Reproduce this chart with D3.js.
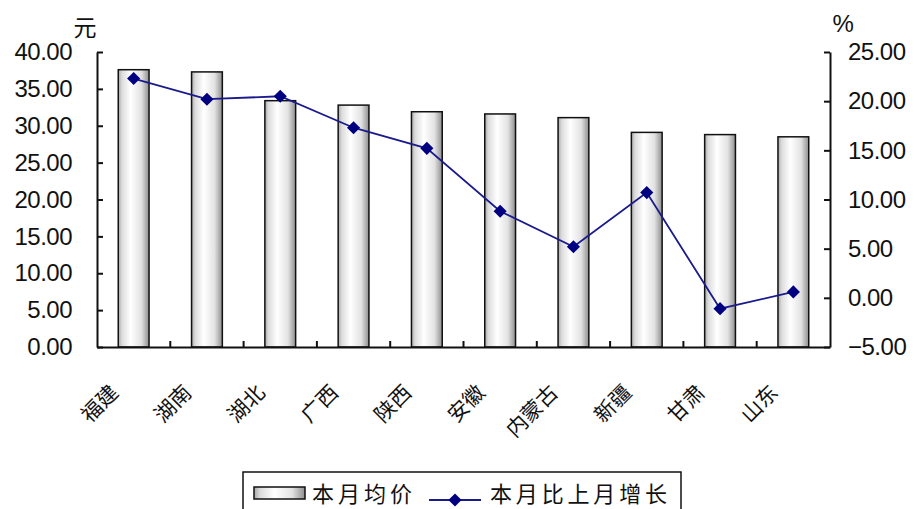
<!DOCTYPE html>
<html>
<head>
<meta charset="utf-8">
<script src="https://cdn.jsdelivr.net/npm/d3@7.9.0/dist/d3.min.js"></script>
<style>
  body { margin: 0; background: #fff; }
  svg { display: block; }
  .num { font-family: "Liberation Sans", Arial, sans-serif; font-size: 24px; fill: #111; letter-spacing: -0.5px; }
  .cjk { font-family: "Noto Sans CJK SC", sans-serif; fill: #111; }
</style>
</head>
<body>
<div id="chart"></div>
<script>
// data
const provinces = ['福建', '湖南', '湖北', '广西', '陕西', '安徽', '内蒙古', '新疆', '甘肃', '山东'];
const avgPrice = [37.6, 37.3, 33.4, 32.8, 31.9, 31.6, 31.1, 29.1, 28.8, 28.5];
const growth = [22.3, 20.2, 20.5, 17.3, 15.2, 8.8, 5.2, 10.7, -1.1, 0.6];
const leftTicks = [0, 5, 10, 15, 20, 25, 30, 35, 40];
const rightTicks = [-5, 0, 5, 10, 15, 20, 25];
const legendLabels = ['本月均价', '本月比上月增长'];

const width = 914;
const height = 509;
const plot = { left: 97, right: 830, top: 52, bottom: 347 };

const svg = d3.select('#chart')
  .append('svg')
  .attr('width', width)
  .attr('height', height);

// bar gradient: grey edges, white just left of centre
const defs = svg.append('defs');
const grad = defs.append('linearGradient')
  .attr('id', 'barGrad')
  .attr('x1', '0%').attr('x2', '100%')
  .attr('y1', '0%').attr('y2', '0%');
grad.append('stop').attr('offset', '0%').attr('stop-color', '#a8a8a8');
grad.append('stop').attr('offset', '12%').attr('stop-color', '#dcdcdc');
grad.append('stop').attr('offset', '40%').attr('stop-color', '#ffffff');
grad.append('stop').attr('offset', '75%').attr('stop-color', '#e2e2e2');
grad.append('stop').attr('offset', '100%').attr('stop-color', '#8e8e8e');

const x = d3.scaleBand()
  .domain(provinces)
  .range([plot.left, plot.right])
  .paddingInner(0.58)
  .paddingOuter(0.29);

const yLeft = d3.scaleLinear().domain([0, 40]).range([plot.bottom, plot.top]);
const yRight = d3.scaleLinear().domain([-5, 25]).range([plot.bottom, plot.top]);

// bars
svg.append('g')
  .selectAll('rect')
  .data(provinces)
  .join('rect')
  .attr('x', (d) => x(d))
  .attr('y', (d, i) => yLeft(avgPrice[i]))
  .attr('width', x.bandwidth())
  .attr('height', (d, i) => yLeft(0) - yLeft(avgPrice[i]))
  .attr('fill', 'url(#barGrad)')
  .attr('stroke', '#111')
  .attr('stroke-width', 1.5);

// axes (ticks point inward)
const leftAxis = d3.axisLeft(yLeft)
  .tickValues(leftTicks)
  .tickFormat(d3.format('.2f'))
  .tickSizeInner(-6)
  .tickSizeOuter(0)
  .tickPadding(25);

const rightAxis = d3.axisRight(yRight)
  .tickValues(rightTicks)
  .tickFormat(d3.format('.2f'))
  .tickSizeInner(-6)
  .tickSizeOuter(0)
  .tickPadding(18);

function styleAxis(g) {
  g.select('.domain').attr('stroke', '#111').attr('stroke-width', 2);
  g.selectAll('.tick line').attr('stroke', '#111').attr('stroke-width', 2);
  g.selectAll('.tick text').attr('class', 'num').attr('font-family', null).attr('font-size', null);
}

svg.append('g')
  .attr('transform', `translate(${plot.left},0)`)
  .call(leftAxis)
  .call(styleAxis);

svg.append('g')
  .attr('transform', `translate(${plot.right},0)`)
  .call(rightAxis)
  .call(styleAxis);

// category axis: ticks between categories, pointing up
const boundaries = provinces.slice(1).map((d) => x(d) - x.step() * x.paddingInner() / 2);
const bottomAxis = d3.axisBottom(x).tickSize(0).tickFormat('');
svg.append('g')
  .attr('transform', `translate(0,${plot.bottom})`)
  .call(bottomAxis)
  .call((g) => g.select('.domain').attr('stroke', '#111').attr('stroke-width', 2))
  .call((g) => g.selectAll('.tick').remove())
  .selectAll('line.sep')
  .data(boundaries)
  .join('line')
  .attr('x1', (d) => d).attr('x2', (d) => d)
  .attr('y1', 0).attr('y2', -6)
  .attr('stroke', '#111')
  .attr('stroke-width', 2);

// rotated category labels
svg.append('g')
  .selectAll('text')
  .data(provinces)
  .join('text')
  .attr('class', 'cjk')
  .attr('font-size', 21)
  .attr('text-anchor', 'end')
  .attr('transform', (d) => `translate(${x(d) + x.bandwidth() / 2 - 14},394) rotate(-45)`)
  .text((d) => d);

// growth line
const line = d3.line()
  .x((d, i) => x(provinces[i]) + x.bandwidth() / 2)
  .y((d) => yRight(d));

svg.append('path')
  .datum(growth)
  .attr('d', line)
  .attr('fill', 'none')
  .attr('stroke', '#1a1a8c')
  .attr('stroke-width', 1.8);

const diamond = d3.symbol().type(d3.symbolDiamond2).size(110);
svg.append('g')
  .selectAll('path')
  .data(growth)
  .join('path')
  .attr('d', diamond)
  .attr('transform', (d, i) => `translate(${x(provinces[i]) + x.bandwidth() / 2},${yRight(d)})`)
  .attr('fill', '#000080');

// unit labels
svg.append('text').attr('class', 'cjk').attr('font-size', 23)
  .attr('x', 85).attr('y', 36).attr('text-anchor', 'middle').text('元');
svg.append('text').attr('class', 'num').attr('font-size', 21)
  .attr('x', 843).attr('y', 32).attr('text-anchor', 'middle').text('%');

// legend
const legend = svg.append('g');
legend.append('rect')
  .attr('x', 243).attr('y', 472)
  .attr('width', 438).attr('height', 50)
  .attr('fill', '#fff')
  .attr('stroke', '#111')
  .attr('stroke-width', 1.5);
legend.append('rect')
  .attr('x', 254).attr('y', 487)
  .attr('width', 51).attr('height', 12)
  .attr('fill', 'url(#barGrad)')
  .attr('stroke', '#111')
  .attr('stroke-width', 1.5);
legend.append('text').attr('class', 'cjk').attr('font-size', 22)
  .attr('x', 312).attr('y', 502)
  .attr('textLength', 100)
  .text(legendLabels[0]);
legend.append('line')
  .attr('x1', 429).attr('x2', 481)
  .attr('y1', 500).attr('y2', 500)
  .attr('stroke', '#1a1a8c').attr('stroke-width', 1.8);
legend.append('path')
  .attr('d', diamond)
  .attr('transform', 'translate(455,500)')
  .attr('fill', '#000080');
legend.append('text').attr('class', 'cjk').attr('font-size', 22)
  .attr('x', 490).attr('y', 502)
  .attr('textLength', 177)
  .text(legendLabels[1]);
</script>
</body>
</html>
